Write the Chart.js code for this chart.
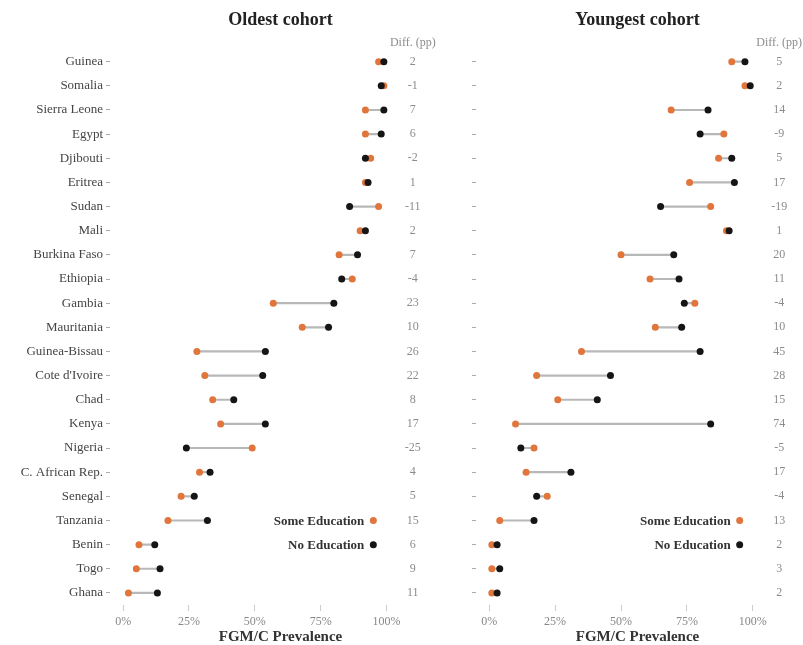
<!DOCTYPE html>
<html>
<head>
<meta charset="utf-8">
<script src="https://cdn.jsdelivr.net/npm/chart.js@4.4.1/dist/chart.umd.min.js"></script>
<style>
body { margin: 0; background: #fff; }
#left { position: absolute; left: 0; top: 0; }
#right { position: absolute; left: 455px; top: 0; }
</style>
</head>
<body>
<canvas id="left" width="455" height="645"></canvas>
<canvas id="right" width="348" height="645"></canvas>
<script>
var countries = ['Guinea', 'Somalia', 'Sierra Leone', 'Egypt', 'Djibouti', 'Eritrea', 'Sudan', 'Mali',
  'Burkina Faso', 'Ethiopia', 'Gambia', 'Mauritania', 'Guinea-Bissau', "Cote d'Ivoire", 'Chad', 'Kenya',
  'Nigeria', 'C. African Rep.', 'Senegal', 'Tanzania', 'Benin', 'Togo', 'Ghana'];

// oldest cohort (%)
var oldSome = [97, 99, 92, 92, 94, 92, 97, 90, 82, 87, 57, 68, 28, 31, 34, 37, 49, 29, 22, 17, 6, 5, 2];
var oldNone = [99, 98, 99, 98, 92, 93, 86, 92, 89, 83, 80, 78, 54, 53, 42, 54, 24, 33, 27, 32, 12, 14, 13];
var oldDiff = ['2', '-1', '7', '6', '-2', '1', '-11', '2', '7', '-4', '23', '10', '26', '22', '8', '17', '-25', '4', '5', '15', '6', '9', '11'];

// youngest cohort (%)
var youngSome = [92, 97, 69, 89, 87, 76, 84, 90, 50, 61, 78, 63, 35, 18, 26, 10, 17, 14, 22, 4, 1, 1, 1];
var youngNone = [97, 99, 83, 80, 92, 93, 65, 91, 70, 72, 74, 73, 80, 46, 41, 84, 12, 31, 18, 17, 3, 4, 3];
var youngDiff = ['5', '2', '14', '-9', '5', '17', '-19', '1', '20', '11', '-4', '10', '45', '28', '15', '74', '-5', '17', '-4', '13', '2', '3', '2'];

var xTicks = [0, 25, 50, 75, 100];
var legendLabels = ['Some Education', 'No Education'];
var legendRows = ['Tanzania', 'Benin'];

var serif = "'Liberation Serif', 'Times New Roman', serif";
var orange = '#e0763c';
var black = '#151515';

// diff column + legend drawn inside the panel
var diffPlugin = {
  id: 'diffText',
  afterDatasetsDraw: function(chart, args, opts) {
    var c = chart.ctx, xs = chart.scales.x, ys = chart.scales.y;
    var x = xs.getPixelForValue(110);
    c.save();
    c.font = '12px ' + serif;
    c.fillStyle = '#8c8c8c';
    c.textAlign = 'center';
    c.textBaseline = 'middle';
    c.fillText('Diff. (pp)', x, chart.chartArea.top - 7);
    opts.values.forEach(function(d, i) {
      c.fillText(d, x, ys.getPixelForValue(i));
    });
    var lx = xs.getPixelForValue(95);
    var cols = [orange, black];
    c.font = 'bold 13px ' + serif;
    c.textAlign = 'right';
    for (var k = 0; k < 2; k++) {
      var ly = ys.getPixelForValue(countries.indexOf(legendRows[k]));
      c.fillStyle = cols[k];
      c.beginPath();
      c.arc(lx, ly, 3.5, 0, Math.PI * 2);
      c.fill();
      c.fillStyle = '#333';
      c.fillText(legendLabels[k], lx - 9, ly + 1);
    }
    c.restore();
  }
};

function makePanel(id, title, some, none, diff, showLabels, yWidth, xMax) {
  return new Chart(document.getElementById(id), {
    type: 'bar',
    data: {
      labels: countries,
      datasets: [
        { type: 'bar', data: some.map(function(v, i) { return [v, none[i]]; }),
          backgroundColor: '#b8b8b8', barThickness: 1.5, order: 3 },
        { type: 'line', label: legendLabels[0], data: some, showLine: false,
          pointRadius: 3.5, pointBackgroundColor: orange, pointBorderWidth: 0, order: 2 },
        { type: 'line', label: legendLabels[1], data: none, showLine: false,
          pointRadius: 3.5, pointBackgroundColor: black, pointBorderWidth: 0, order: 1 }
      ]
    },
    options: {
      indexAxis: 'y',
      responsive: false,
      animation: false,
      layout: { padding: 0 },
      plugins: {
        legend: { display: false },
        tooltip: { enabled: false },
        title: { display: true, text: title, fullSize: false, color: '#222',
          font: { family: serif, size: 18, weight: 'bold' }, padding: { top: 10, bottom: 18 } },
        diffText: { values: diff }
      },
      scales: {
        x: {
          type: 'linear', min: -5, max: xMax,
          afterBuildTicks: function(s) { s.ticks = xTicks.map(function(v) { return { value: v }; }); },
          afterFit: function(s) { s.height = 40; },
          grid: { drawOnChartArea: false, tickLength: 6, tickColor: '#ccc' },
          border: { display: false },
          ticks: { font: { family: serif, size: 12 }, color: '#888', padding: 4, maxRotation: 0,
            callback: function(v) { return v + '%'; } },
          title: { display: true, text: 'FGM/C Prevalence', color: '#333',
            font: { family: serif, size: 15, weight: 'bold', lineHeight: 1 }, padding: { top: 0, bottom: 0 } }
        },
        y: {
          type: 'category', offset: true,
          grid: { drawOnChartArea: false, offset: false, tickLength: 4, tickColor: '#aaa' },
          border: { display: false },
          ticks: { font: { family: serif, size: 13 }, color: '#444', padding: 3,
            callback: function(v) { return showLabels ? this.getLabelForValue(v) : ''; } },
          afterFit: function(s) { s.width = yWidth; }
        }
      }
    },
    plugins: [diffPlugin]
  });
}

makePanel('left', 'Oldest cohort', oldSome, oldNone, oldDiff, true, 110, 124.5);
makePanel('right', 'Youngest cohort', youngSome, youngNone, youngDiff, false, 21, 117.5);
</script>
</body>
</html>
